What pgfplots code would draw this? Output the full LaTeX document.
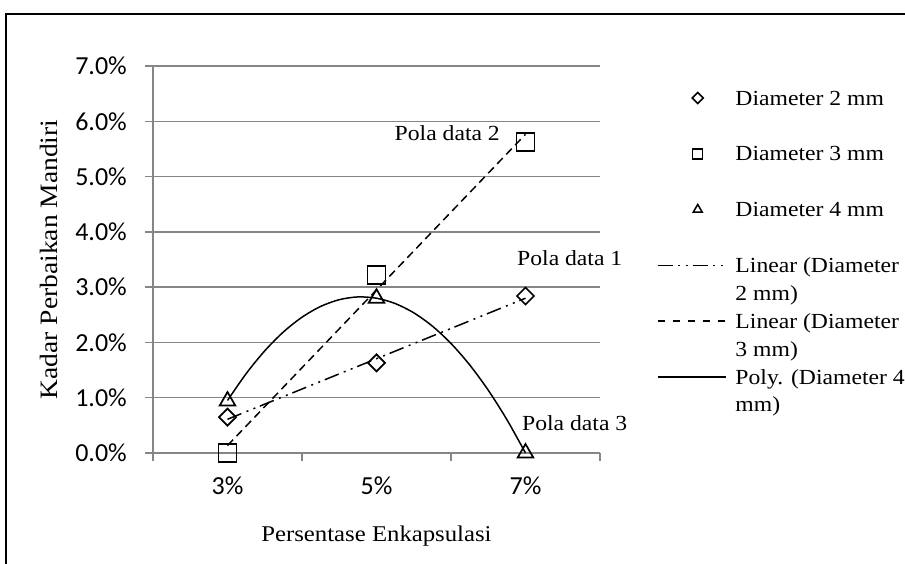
\documentclass[border=0pt]{standalone}
\usepackage{fontspec}
\setmainfont{Liberation Serif}[FakeStretch=1.1]
\newfontfamily\tickfont{Carlito}
\usepackage{pgfplots}
\pgfplotsset{compat=1.18}
\definecolor{gridgray}{RGB}{134,134,134}
\newcommand\lbox{\pgfpathrectangle{\pgfqpoint{0bp}{-8.4bp}}{\pgfqpoint{1bp}{27.9bp}}\pgfusepath{}}

\begin{document}
\begin{tikzpicture}
\useasboundingbox (0bp,0bp) rectangle (905bp,564bp);
\draw[line width=2.5bp] (6bp,0bp) -- (6bp,550bp) -- (905bp,550bp);
\begin{axis}[
  at={(153bp,111bp)}, anchor=south west,
  scale only axis, width=447bp, height=387bp,
  xmin=2, xmax=8, ymin=0, ymax=7,
  clip=false,
  axis lines=left,
  axis line style={-, draw=gridgray, line width=1.5bp},
  tick align=outside,
  major tick length=8bp,
  tick style={draw=gridgray, line width=1.5bp},
  ymajorgrids,
  major grid style={draw=gridgray, line width=1.5bp},
  ytick={0,1,2,3,4,5,6,7},
  yticklabels={0.0\%,1.0\%,2.0\%,3.0\%,4.0\%,5.0\%,6.0\%,7.0\%},
  xtick={2,4,6,8},
  xticklabels={,,,},
  extra x ticks={3,5,7},
  extra x tick labels={3\%,5\%,7\%},
  extra x tick style={major tick length=0pt},
  ticklabel style={font=\tickfont\fontsize{26bp}{30bp}\selectfont},
  yticklabel style={inner sep=0pt, xshift=-18bp},
  xticklabel style={inner sep=0pt, yshift=-24bp},
  every axis x label/.style={at={(axis description cs:0.5,-0.2274)}, anchor=base, inner sep=0pt, font=\fontsize{22.5bp}{26bp}\selectfont},
  every axis y label/.style={at={(axis description cs:-0.2125,0.5)}, rotate=90, anchor=south, inner sep=0pt, font=\fontsize{25bp}{28bp}\selectfont},
  xlabel={Persentase Enkapsulasi},
  ylabel={Kadar Perbaikan Mandiri},
  legend style={at={(axis description cs:1.1275,0.9496)}, anchor=north west,
    draw=none, fill=none, inner sep=0pt, outer sep=0pt, row sep=0pt, column sep=9bp,
    font=\fontsize{21.5bp}{28bp}\selectfont,
    cells={anchor=base west},
    nodes={inner sep=0pt, outer sep=0pt}},
  legend image code/.code={\lbox\draw[#1] (0bp,7bp) -- (68bp,7bp);},
]
% data series (markers)
\addplot[only marks, mark=square, mark size=6bp, mark options={rotate=45, line width=1.7bp, fill=none, draw=black},
  legend image code/.code={\lbox\draw[mark=square, mark size=3.9bp, mark options={rotate=45, line width=1.5bp, fill=none, draw=black}] plot coordinates {(40bp,7bp)};}]
  coordinates {(3,0.65) (5,1.63) (7,2.84)};
\addlegendentry{Diameter 2 mm}
\addlegendimage{legend image code/.code={\lbox}}
\addlegendentry{}
\addplot[only marks, mark=square, mark size=9bp, mark options={line width=1.7bp, fill=none, draw=black},
  legend image code/.code={\lbox\draw[mark=square, mark size=5bp, mark options={line width=1.5bp, fill=none, draw=black}] plot coordinates {(40bp,7bp)};}]
  coordinates {(3,0.00) (5,3.22) (7,5.63)};
\addlegendentry{Diameter 3 mm}
\addlegendimage{legend image code/.code={\lbox}}
\addlegendentry{}
\addplot[only marks, mark=triangle, mark size=9bp, mark options={line width=1.7bp, fill=none, draw=black},
  legend image code/.code={\lbox\draw[mark=triangle, mark size=5.2bp, mark options={line width=1.5bp, fill=none, draw=black}] plot coordinates {(40bp,7bp)};}]
  coordinates {(3,0.94) (5,2.80) (7,0.00)};
\addlegendentry{Diameter 4 mm}
\addlegendimage{legend image code/.code={\lbox}}
\addlegendentry{}
% trendlines
\addplot[black, line width=1.5bp, no marks, dash pattern=on 15bp off 5.5bp on 2bp off 5.5bp on 2bp off 5bp,
  legend image code/.code={\lbox\draw[black, line width=1.5bp, dash pattern=on 15bp off 5.5bp on 2bp off 5.5bp on 2bp off 5bp] (0bp,7bp) -- (68bp,7bp);}]
  coordinates {(3,0.61) (7,2.80)};
\addlegendentry{Linear (Diameter}
\addlegendimage{legend image code/.code={\lbox}}
\addlegendentry{2 mm)}
\addplot[black, line width=1.5bp, no marks, dash pattern=on 8bp off 5bp,
  legend image code/.code={\lbox\draw[black, line width=1.5bp, dash pattern=on 7bp off 8bp] (0bp,7bp) -- (68bp,7bp);}]
  coordinates {(3,0.135) (7,5.765)};
\addlegendentry{Linear (Diameter}
\addlegendimage{legend image code/.code={\lbox}}
\addlegendentry{3 mm)}
\addplot[black, line width=1.5bp, no marks, smooth,
  legend image code/.code={\lbox\draw[black, line width=1.5bp] (0bp,7bp) -- (68bp,7bp);}]
  coordinates {(3,0.95) (3.25,1.435) (3.5,1.848) (3.75,2.189) (4,2.456) (4.25,2.651) (4.5,2.773) (4.75,2.823) (5,2.80) (5.25,2.704) (5.5,2.536) (5.75,2.295) (6,1.981) (6.25,1.595) (6.5,1.136) (6.75,0.604) (7,0.0)};
\addlegendentry{Poly. (Diameter 4}
\addlegendimage{legend image code/.code={\lbox}}
\addlegendentry{mm)}
% annotations
\node[anchor=east, inner sep=0pt, font=\fontsize{21.5bp}{26bp}\selectfont] at (axis cs:6.658,5.79) {Pola data 2};
\node[anchor=west, inner sep=0pt, font=\fontsize{21.5bp}{26bp}\selectfont] at (axis cs:6.886,3.53) {Pola data 1};
\node[anchor=west, inner sep=0pt, font=\fontsize{21.5bp}{26bp}\selectfont] at (axis cs:6.953,0.543) {Pola data 3};
\end{axis}
\end{tikzpicture}
\end{document}
